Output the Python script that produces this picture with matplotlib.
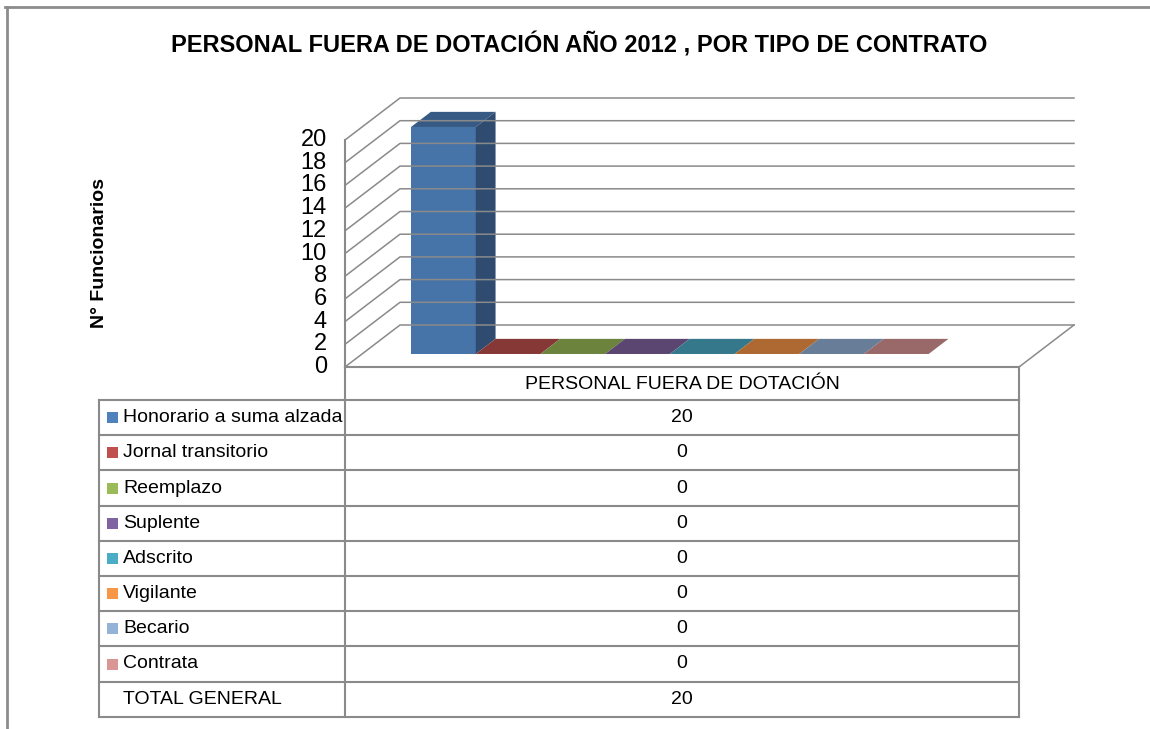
import matplotlib
matplotlib.use("Agg")
import matplotlib.pyplot as plt
from matplotlib.patches import Polygon, Rectangle
from matplotlib import colors as mcolors

plt.rcParams['font.family'] = ['Liberation Sans', 'DejaVu Sans']

# data
titulo = 'PERSONAL FUERA DE DOTACIÓN AÑO 2012 , POR TIPO DE CONTRATO'
serie = 'PERSONAL FUERA DE DOTACIÓN'
categorias = ['Honorario a suma alzada', 'Jornal transitorio', 'Reemplazo', 'Suplente',
              'Adscrito', 'Vigilante', 'Becario', 'Contrata']
valores = [20, 0, 0, 0, 0, 0, 0, 0]
total_label = 'TOTAL GENERAL'
total_general = 20
y_ticks = [0, 2, 4, 6, 8, 10, 12, 14, 16, 18, 20]
y_label = 'N° Funcionarios'
colores = ['#4F81BD', '#C0504D', '#9BBB59', '#8064A2', '#4BACC6', '#F79646', '#95B3D7', '#D99694']

# layout (pixels)
X0, Y0 = 345, 367        # front-left corner of floor
DX, DY = 55, -42         # depth vector (front -> back wall)
UNIT = 11.35             # px per funcionario
OFF, SLOT = 49, 64.7     # first bar offset, bar width
FLOOR_W = 674
D0, D1 = 0.31, 0.67      # bar depth range
GRID = '#8a8a8a'

uL = -OFF / SLOT
uR = (FLOOR_W - OFF) / SLOT


def proj(u, v, d):
    return (X0 + OFF + u * SLOT + DX * d, Y0 - v * UNIT + DY * d)


def shade(c, f):
    r, g, b = mcolors.to_rgb(c)
    return (r * f, g * f, b * f)


fig = plt.figure(figsize=(11.5, 7.29), dpi=100)
ax = fig.add_axes([0, 0, 1, 1])
ax.set_xlim(0, 1150)
ax.set_ylim(729, 0)
ax.axis('off')

# outer frame
ax.plot([5, 1150], [7, 7], color='#8c8c8c', lw=2)
ax.plot([7, 7], [7, 729], color='#8c8c8c', lw=2)

ax.text(579, 45, titulo, ha='center', va='center', fontsize=17, fontweight='bold')
ax.text(99, 253, y_label, rotation=90, ha='center', va='center', fontsize=14, fontweight='bold')

# walls / gridlines
for v in y_ticks:
    p0, p1, p2 = proj(uL, v, 0), proj(uL, v, 1), proj(uR, v, 1)
    ax.plot([p0[0], p1[0], p2[0]], [p0[1], p1[1], p2[1]], color=GRID, lw=1.1)
    ax.text(p0[0] - 18, p0[1], str(v), ha='right', va='center', fontsize=17)
a, b = proj(uL, 0, 0), proj(uL, max(y_ticks), 0)
ax.plot([a[0], b[0]], [a[1], b[1]], color=GRID, lw=1.5)
fr, br = proj(uR, 0, 0), proj(uR, 0, 1)
ax.plot([br[0], fr[0]], [br[1], fr[1]], color=GRID, lw=1.1)

# bars
for i, (val, c) in enumerate(zip(valores, colores)):
    fl, fr_ = proj(i, 0, D0), proj(i + 1, 0, D0)
    tl, tr = proj(i, val, D0), proj(i + 1, val, D0)
    btl, btr = proj(i, val, D1), proj(i + 1, val, D1)
    bbr = proj(i + 1, 0, D1)
    ax.add_patch(Polygon([tl, tr, btr, btl], closed=True, fc=shade(c, 0.7), ec='none'))
    if val > 0:
        ax.add_patch(Polygon([fl, fr_, tr, tl], closed=True, fc=shade(c, 0.89), ec='none'))
        ax.add_patch(Polygon([fr_, bbr, btr, tr], closed=True, fc=shade(c, 0.59), ec='none'))

# data table
TL, TR = 99, fr[0]
H0, H1 = Y0, 400
RH = 35.2
nrows = len(categorias) + 1
bottom = H1 + nrows * RH
ax.plot([X0, TR], [H0, H0], color=GRID, lw=1.5)
ax.plot([X0, X0], [H0, bottom], color=GRID, lw=1.5)
ax.plot([TR, TR], [H0, bottom], color=GRID, lw=1.5)
ax.plot([TL, TL], [H1, bottom], color=GRID, lw=1.5)
for k in range(nrows + 1):
    ax.plot([TL, TR], [H1 + k * RH] * 2, color=GRID, lw=1.5)
cx = (X0 + TR) / 2
ax.text(cx, (H0 + H1) / 2 + 1, serie, ha='center', va='center', fontsize=14)

filas = list(zip(categorias, valores, colores)) + [(total_label, total_general, None)]
for k, (lab, val, c) in enumerate(filas):
    yc = H1 + (k + 0.5) * RH
    if c is not None:
        ax.add_patch(Rectangle((107, yc - 5.5), 11, 11, fc=c, ec='none'))
    ax.text(123, yc, lab, ha='left', va='center', fontsize=14)
    ax.text(cx, yc, str(val), ha='center', va='center', fontsize=14)

fig.savefig('out.png', dpi=100)
